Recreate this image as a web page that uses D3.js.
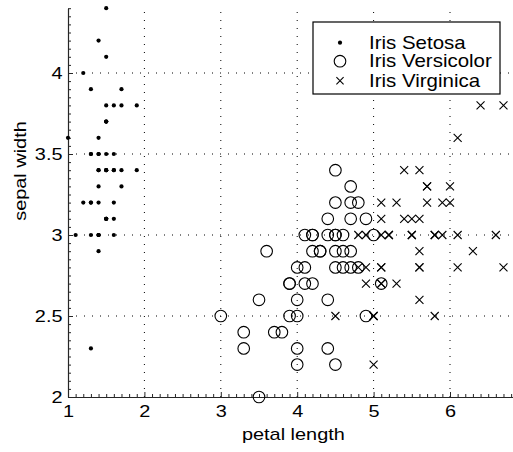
<!DOCTYPE html>
<html>
<head>
<meta charset="utf-8">
<script src="https://cdn.jsdelivr.net/npm/d3@7"></script>
<style>
  html, body { margin: 0; padding: 0; background: #fff; }
  svg { display: block; font-family: "Liberation Sans", Arial, Helvetica, sans-serif; }
</style>
</head>
<body>
<svg id="chart" width="513" height="452"></svg>
<script>
// ---- Data (petal length, sepal width) ----
const setosaPL = [1.4,1.4,1.3,1.5,1.4,1.7,1.4,1.5,1.4,1.5,1.5,1.6,1.4,1.1,1.2,1.5,1.3,1.4,1.7,1.5,1.7,1.5,1.0,1.7,1.9,1.6,1.6,1.5,1.4,1.6,1.6,1.5,1.5,1.4,1.5,1.2,1.3,1.5,1.3,1.5,1.3,1.3,1.3,1.6,1.9,1.4,1.6,1.4,1.5,1.4];
const setosaSW = [3.5,3.0,3.2,3.1,3.6,3.9,3.4,3.4,2.9,3.1,3.7,3.4,3.0,3.0,4.0,4.4,3.9,3.5,3.8,3.8,3.4,3.7,3.6,3.3,3.4,3.0,3.4,3.5,3.4,3.2,3.1,3.4,4.1,4.2,3.1,3.2,3.5,3.1,3.0,3.4,3.5,2.3,3.2,3.5,3.8,3.0,3.8,3.2,3.7,3.3];
const versicolorPL = [4.7,4.5,4.9,4.0,4.6,4.5,4.7,3.3,4.6,3.9,3.5,4.2,4.0,4.7,3.6,4.4,4.5,4.1,4.5,3.9,4.8,4.0,4.9,4.7,4.3,4.4,4.8,5.0,4.5,3.5,3.8,3.7,3.9,5.1,4.5,4.5,4.7,4.4,4.1,4.0,4.4,4.6,4.0,3.3,4.2,4.2,4.2,4.3,3.0,4.1];
const versicolorSW = [3.2,3.2,3.1,2.3,2.8,2.8,3.3,2.4,2.9,2.7,2.0,3.0,2.2,2.9,2.9,3.1,3.0,2.7,2.2,2.5,3.2,2.8,2.5,2.8,2.9,3.0,2.8,3.0,2.9,2.6,2.4,2.4,2.7,2.7,3.0,3.4,3.1,2.3,3.0,2.5,2.6,3.0,2.6,2.3,2.7,3.0,2.9,2.9,2.5,2.8];
const virginicaPL = [6.0,5.1,5.9,5.6,5.8,6.6,4.5,6.3,5.8,6.1,5.1,5.3,5.5,5.0,5.1,5.3,5.5,6.7,6.9,5.0,5.7,4.9,6.7,4.9,5.7,6.0,4.8,4.9,5.6,5.8,6.1,6.4,5.6,5.1,5.6,6.1,5.6,5.5,4.8,5.4,5.6,5.1,5.1,5.9,5.7,5.2,5.0,5.2,5.4,5.1];
const virginicaSW = [3.3,2.7,3.0,2.9,3.0,3.0,2.5,2.9,2.5,3.6,3.2,2.7,3.0,2.5,2.8,3.2,3.0,3.8,2.6,2.2,3.2,2.8,2.8,2.7,3.3,3.2,2.8,3.0,2.8,3.0,2.8,3.8,2.8,2.8,2.6,3.0,3.4,3.1,3.0,3.1,3.1,3.1,2.7,3.2,3.3,3.0,2.5,3.0,3.4,3.0];

const xMajorTicks = [1, 2, 3, 4, 5, 6];
const yMajorTicks = [2, 2.5, 3, 3.5, 4];
const legendLabels = ["Iris Setosa", "Iris Versicolor", "Iris Virginica"];
const xLabel = "petal length";
const yLabel = "sepal width";

// ---- Layout ----
const svg = d3.select("#chart");
const plotLeft = 68, plotTop = 8.2, plotBottom = 397, unitX = 76.4;
const x = d3.scaleLinear().domain([1, 6.9]).range([plotLeft, plotLeft + 5.9 * unitX]);
const y = d3.scaleLinear().domain([2, 4.4]).range([plotBottom, plotTop]);
const FS = 17;        // axis font size
const SX = 1.17;      // horizontal stretch of text
const LFS = 17.5;     // legend font size
const axisColor = "#262626";

// grid
const gridG = svg.append("g");
gridG.selectAll("line.gx").data(xMajorTicks.filter(d => d > 1)).join("line").attr("class", "gx")
  .attr("x1", d => x(d)).attr("x2", d => x(d)).attr("y1", y(2)).attr("y2", y(4.4))
  .attr("stroke", "#000").attr("stroke-width", 1).attr("stroke-dasharray", "1,7");
gridG.selectAll("line.gy").data(yMajorTicks.filter(d => d > 2)).join("line").attr("class", "gy")
  .attr("y1", d => y(d)).attr("y2", d => y(d)).attr("x1", x(1)).attr("x2", x(6.9))
  .attr("stroke", "#000").attr("stroke-width", 1).attr("stroke-dasharray", "1,7");

// minor ticks
const xMinor = d3.range(10, 70).map(d => d / 10).filter(d => !xMajorTicks.includes(d));
const yMinor = d3.range(40, 89).map(d => d / 20).filter(d => !yMajorTicks.includes(d));

svg.append("g").attr("transform", `translate(0,${plotBottom})`)
  .call(d3.axisBottom(x).tickValues(xMinor).tickSize(-3).tickFormat(""))
  .call(g => g.select(".domain").remove())
  .call(g => g.selectAll("line").attr("stroke", axisColor));
svg.append("g").attr("transform", `translate(${plotLeft},0)`)
  .call(d3.axisLeft(y).tickValues(yMinor).tickSize(-3).tickFormat(""))
  .call(g => g.select(".domain").remove())
  .call(g => g.selectAll("line").attr("stroke", axisColor));

// major axes
const xAxis = svg.append("g").attr("transform", `translate(0,${plotBottom})`)
  .call(d3.axisBottom(x).tickValues(xMajorTicks).tickSize(-5).tickSizeOuter(0).tickPadding(8).tickFormat(d => String(d)));
const yAxis = svg.append("g").attr("transform", `translate(${plotLeft},0)`)
  .call(d3.axisLeft(y).tickValues(yMajorTicks).tickSize(-5).tickSizeOuter(0).tickPadding(5.5).tickFormat(d => String(d)));
[xAxis, yAxis].forEach(g => {
  g.attr("font-size", FS).attr("font-family", null);
  g.select(".domain").attr("stroke", axisColor).attr("stroke-width", 1.2);
  g.selectAll("line").attr("stroke", axisColor);
  g.selectAll("text").attr("fill", "#000");
});
xAxis.selectAll("text").attr("transform", `scale(${SX},1)`);
yAxis.selectAll("text").attr("dy", "0.34em")
  .attr("transform", `translate(-5.5,0) scale(${SX},1) translate(5.5,0)`);

// axis labels
svg.append("text").attr("transform", `translate(${(x(1) + x(6.9)) / 2},440) scale(${SX},1)`)
  .attr("text-anchor", "middle").attr("font-size", FS).text(xLabel);
svg.append("text").attr("transform", `translate(25.5,171) rotate(-90) scale(${SX},1)`)
  .attr("text-anchor", "middle").attr("font-size", FS).text(yLabel);

// data
const pts = (pl, sw) => pl.map((d, i) => ({px: d, sw: sw[i]}));
const crossPath = (cx, cy, s) => `M${cx - s},${cy - s}L${cx + s},${cy + s}M${cx - s},${cy + s}L${cx + s},${cy - s}`;

svg.append("g").selectAll("circle").data(pts(setosaPL, setosaSW)).join("circle")
  .attr("cx", d => x(d.px)).attr("cy", d => y(d.sw)).attr("r", 2.1).attr("fill", "#000");
svg.append("g").selectAll("circle").data(pts(versicolorPL, versicolorSW)).join("circle")
  .attr("cx", d => x(d.px)).attr("cy", d => y(d.sw)).attr("r", 5.8)
  .attr("fill", "none").attr("stroke", "#000").attr("stroke-width", 1.1);
svg.append("g").selectAll("path").data(pts(virginicaPL, virginicaSW)).join("path")
  .attr("d", d => crossPath(x(d.px), y(d.sw), 4))
  .attr("fill", "none").attr("stroke", "#000").attr("stroke-width", 1.1);

// legend
const lg = svg.append("g");
lg.append("rect").attr("x", 313).attr("y", 22).attr("width", 187).attr("height", 72)
  .attr("fill", "#fff").attr("stroke", "#000").attr("stroke-width", 1.2);
const rowsY = [42.7, 61.2, 80.8];
lg.append("circle").attr("cx", 340).attr("cy", rowsY[0]).attr("r", 2.1).attr("fill", "#000");
lg.append("circle").attr("cx", 340).attr("cy", rowsY[1]).attr("r", 5.8).attr("fill", "none").attr("stroke", "#000").attr("stroke-width", 1.1);
lg.append("path").attr("d", crossPath(340, rowsY[2], 3.6)).attr("fill", "none").attr("stroke", "#000").attr("stroke-width", 1.1);
lg.selectAll("text").data(legendLabels).join("text")
  .attr("transform", (d, i) => `translate(369,${rowsY[i]}) scale(${SX},1)`)
  .attr("dy", "0.35em")
  .attr("font-size", LFS).text(d => d);
</script>
</body>
</html>
